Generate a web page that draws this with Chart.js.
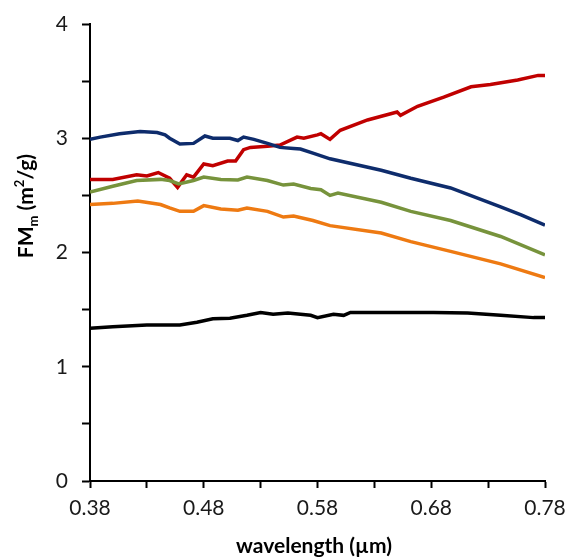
<!DOCTYPE html>
<html>
<head>
<meta charset="utf-8">
<script src="https://cdn.jsdelivr.net/npm/chart.js@4"></script>
<style>
	html, body { margin: 0; padding: 0; background: #fff; }
	#wrap { width: 569px; height: 558px; }
</style>
</head>
<body>
<div id="wrap"><canvas id="chart1"></canvas></div>
<script>
// wavelength (um) and FM_m (m2/g), one pair of arrays per curve
const wlBlue = [0.380, 0.389, 0.406, 0.424, 0.439, 0.446, 0.450, 0.459, 0.471, 0.481, 0.488, 0.503, 0.510, 0.515, 0.524, 0.536, 0.547, 0.559, 0.565, 0.576, 0.591, 0.636, 0.662, 0.697, 0.741, 0.759, 0.780];
const fmBlue = [2.99, 3.01, 3.04, 3.06, 3.05, 3.03, 3.00, 2.95, 2.955, 3.02, 3.00, 3.00, 2.98, 3.01, 2.99, 2.955, 2.92, 2.91, 2.906, 2.87, 2.82, 2.72, 2.65, 2.565, 2.40, 2.33, 2.24];

const wlRed = [0.380, 0.400, 0.421, 0.430, 0.440, 0.450, 0.457, 0.465, 0.471, 0.480, 0.488, 0.501, 0.508, 0.515, 0.521, 0.536, 0.547, 0.562, 0.568, 0.580, 0.583, 0.591, 0.600, 0.624, 0.650, 0.653, 0.668, 0.691, 0.715, 0.732, 0.756, 0.774, 0.780];
const fmRed = [2.64, 2.64, 2.68, 2.67, 2.70, 2.65, 2.57, 2.68, 2.66, 2.775, 2.76, 2.80, 2.80, 2.90, 2.92, 2.93, 2.94, 3.01, 3.00, 3.03, 3.04, 2.99, 3.07, 3.16, 3.23, 3.20, 3.28, 3.36, 3.45, 3.47, 3.51, 3.55, 3.55];

const wlGreen = [0.380, 0.400, 0.421, 0.442, 0.450, 0.458, 0.471, 0.480, 0.495, 0.510, 0.518, 0.536, 0.550, 0.559, 0.574, 0.583, 0.591, 0.598, 0.636, 0.662, 0.697, 0.741, 0.780];
const fmGreen = [2.53, 2.58, 2.63, 2.64, 2.63, 2.60, 2.63, 2.66, 2.64, 2.635, 2.66, 2.63, 2.59, 2.60, 2.56, 2.55, 2.50, 2.52, 2.44, 2.36, 2.28, 2.14, 1.98];

const wlOrange = [0.380, 0.400, 0.422, 0.442, 0.450, 0.459, 0.471, 0.480, 0.495, 0.510, 0.518, 0.536, 0.550, 0.559, 0.576, 0.591, 0.636, 0.662, 0.697, 0.741, 0.780];
const fmOrange = [2.42, 2.43, 2.45, 2.42, 2.39, 2.36, 2.36, 2.41, 2.38, 2.37, 2.39, 2.36, 2.31, 2.32, 2.28, 2.235, 2.17, 2.095, 2.01, 1.90, 1.78];

const wlBlack = [0.380, 0.400, 0.430, 0.459, 0.474, 0.488, 0.503, 0.518, 0.530, 0.541, 0.554, 0.565, 0.574, 0.580, 0.594, 0.603, 0.609, 0.682, 0.712, 0.741, 0.770, 0.780];
const fmBlack = [1.336, 1.35, 1.365, 1.365, 1.39, 1.42, 1.425, 1.45, 1.475, 1.46, 1.47, 1.46, 1.45, 1.43, 1.46, 1.45, 1.475, 1.475, 1.47, 1.45, 1.43, 1.43];

const pts = (xs, ys) => xs.map((x, i) => ({ x: x, y: ys[i] }));

const line = (xs, ys, color) => ({
	data: pts(xs, ys),
	borderColor: color,
	borderWidth: 3.5,
	pointRadius: 0,
	tension: 0,
	fill: false,
});

const FONT = "Lato, 'Open Sans', sans-serif";

// axis titles drawn by hand because of the sub/superscript
const titles = {
	id: "titles",
	afterDraw(chart) {
		const ctx = chart.ctx;
		ctx.save();
		ctx.fillStyle = "#000";
		ctx.textBaseline = "alphabetic";

		ctx.font = "bold 21px " + FONT;
		ctx.textAlign = "center";
		ctx.fillText("wavelength (\u00b5m)", 314, 553);

		const parts = [
			{ t: "FM", size: 21, dy: 0 },
			{ t: "m", size: 13, dy: 5 },
			{ t: " (m", size: 21, dy: 0 },
			{ t: "2", size: 13, dy: -9 },
			{ t: "/g)", size: 21, dy: 0 },
		];
		let total = 0;
		parts.forEach((p) => {
			ctx.font = "bold " + p.size + "px " + FONT;
			p.w = ctx.measureText(p.t).width;
			total += p.w;
		});
		ctx.translate(33, 206);
		ctx.rotate(-Math.PI / 2);
		ctx.textAlign = "left";
		let x = -total / 2;
		parts.forEach((p) => {
			ctx.font = "bold " + p.size + "px " + FONT;
			ctx.fillText(p.t, x, p.dy);
			x += p.w;
		});
		ctx.restore();
	},
};

new Chart(document.getElementById("chart1"), {
	type: "line",
	data: {
		datasets: [
			line(wlBlack, fmBlack, "#000000"),
			line(wlOrange, fmOrange, "#EE7A12"),
			line(wlGreen, fmGreen, "#77933C"),
			line(wlBlue, fmBlue, "#0E2C6C"),
			line(wlRed, fmRed, "#C00000"),
		],
	},
	options: {
		responsive: true,
		maintainAspectRatio: false,
		animation: false,
		layout: { padding: { top: 24, right: 24, left: 0, bottom: 0 } },
		plugins: {
			legend: { display: false },
			tooltip: { enabled: false },
		},
		scales: {
			x: {
				type: "linear",
				min: 0.38,
				max: 0.78,
				afterFit: (s) => {
					s.height = 77;
					s.paddingLeft = 0;
					s.paddingRight = 0;
				},
				afterBuildTicks: (s) => {
					s.ticks = [];
					for (let i = 0; i <= 8; i++) s.ticks.push({ value: 0.38 + i * 0.05 });
				},
				grid: {
					drawOnChartArea: false,
					drawTicks: true,
					tickLength: 7,
					tickWidth: 2,
					color: "#000",
				},
				border: { display: true, color: "#000", width: 2 },
				ticks: {
					padding: 8,
					color: "#1a1a1a",
					font: { family: FONT, size: 21 },
					maxRotation: 0,
					autoSkip: false,
					callback: (v) => {
						const k = Math.round(v * 100);
						return (k - 38) % 10 === 0 ? (k / 100).toFixed(2) : "";
					},
				},
			},
			y: {
				min: 0,
				max: 4,
				afterFit: (s) => {
					s.width = 90;
					s.paddingTop = 0;
					s.paddingBottom = 0;
				},
				grid: {
					drawOnChartArea: false,
					drawTicks: true,
					tickLength: 8,
					tickWidth: 2,
					color: "#000",
				},
				border: { display: true, color: "#000", width: 2 },
				ticks: {
					stepSize: 0.5,
					padding: 14,
					color: "#1a1a1a",
					font: { family: FONT, size: 21 },
					callback: (v) => (Number.isInteger(v) ? String(v) : ""),
				},
			},
		},
	},
	plugins: [titles],
});
</script>
</body>
</html>
